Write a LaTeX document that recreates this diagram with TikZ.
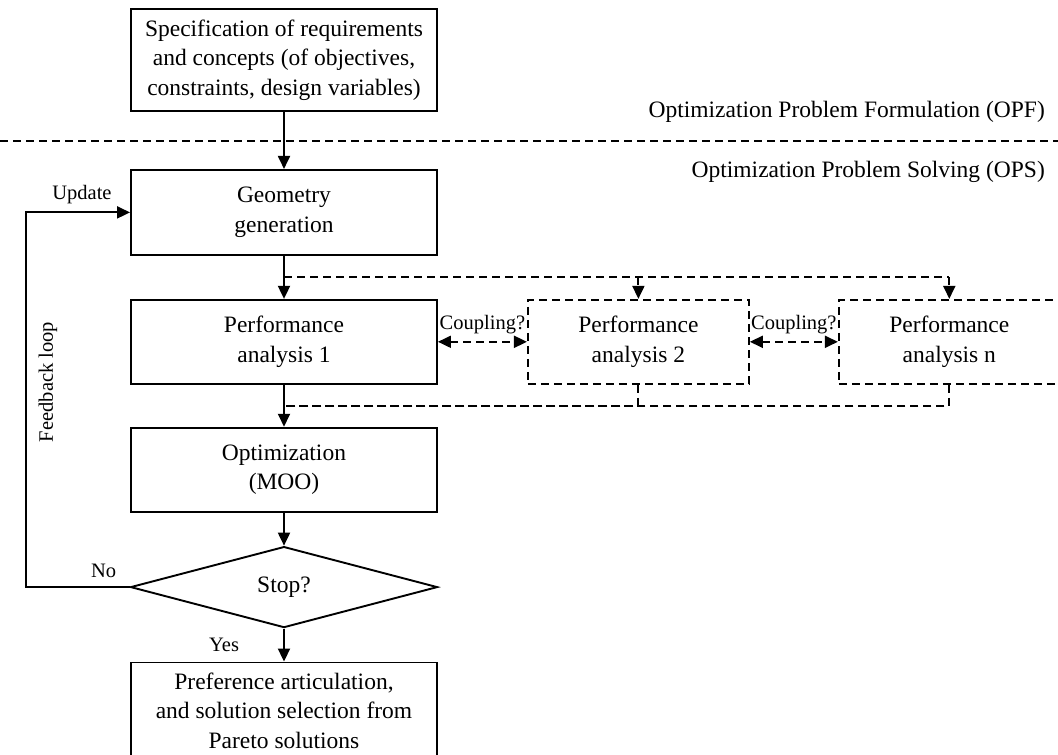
\documentclass[tikz,border=0pt]{standalone}
\usepackage{fontspec}
\setmainfont{Liberation Serif}
\usetikzlibrary{arrows.meta,positioning,calc,shapes.geometric}
\tikzset{
  blk/.style={draw, line width=1.9pt, minimum width=306pt, minimum height=84pt, inner sep=3pt, align=center, font=\fontsize{23.5}{29.5}\selectfont},
  dblk/.style={blk, dash pattern=on 8pt off 5pt, minimum width=221pt},
  dec/.style={draw, diamond, line width=1.9pt, minimum width=307pt, minimum height=81pt, inner sep=0pt, font=\fontsize{23.5}{29.5}\selectfont},
  arr/.style={-{Triangle[length=13pt, width=12pt]}, line width=1.9pt},
  darr/.style={arr, dash pattern=on 8pt off 5pt},
  cpl/.style={{Triangle[length=13pt, width=12pt]}-{Triangle[length=13pt, width=12pt]}, line width=1.9pt, dash pattern=on 8pt off 5pt},
  dline/.style={line width=1.9pt, dash pattern=on 8pt off 5pt},
  lbl/.style={inner sep=0pt, font=\fontsize{23.5}{29.5}\selectfont},
  lbls/.style={inner sep=0pt, font=\fontsize{20.5}{24}\selectfont},
}
\begin{document}
\begin{tikzpicture}[x=1pt, y=-1pt]
  \useasboundingbox (0,0) rectangle (1058,755);
  % main column
  \node[blk, minimum height=102pt] (spec) at (284,60) {Specification of requirements\\and concepts (of objectives,\\constraints, design variables)};
  \node[blk, below=57pt of spec, minimum height=85pt] (geom) {Geometry\\generation};
  \node[blk, below=43pt of geom] (pa1) {Performance\\analysis 1};
  \node[blk, below=42pt of pa1] (opt) {Optimization\\(MOO)};
  \node[dec, below=33pt of opt] (stop) {Stop?};
  \node[blk, below=33pt of stop, minimum height=96pt] (pref) {Preference articulation,\\and solution selection from\\Pareto solutions};
  % further analyses
  \node[dblk, right=89pt of pa1] (pa2) {Performance\\analysis 2};
  \node[dblk, right=88pt of pa2] (pan) {Performance\\analysis n};
  % phases
  \coordinate (sepL) at (0,141);
  \coordinate (sepR) at (1058,141);
  \draw[dline] (sepL) -- (sepR);
  \node[lbl, anchor=east] (opf) at (1045,112) {Optimization Problem Formulation (OPF)};
  \node[lbl, anchor=east] (ops) at (1045,172) {Optimization Problem Solving (OPS)};
  % flow
  \draw[arr] (spec) -- (geom);
  \draw[arr] (geom) -- (pa1);
  \draw[arr] (pa1) -- (opt);
  \draw[arr] (opt) -- (stop);
  \draw[arr] (stop) -- node[lbls, left=44pt] {Yes} (pref);
  \coordinate (br) at ($(geom.south)!0.5!(pa1.north)$);
  \coordinate (mg) at ($(pa1.south)!0.5!(opt.north)$);
  \draw[dline] (br) -- (br -| pan.north);
  \foreach \p in {pa2,pan} { \draw[darr] (br -| \p.north) -- (\p.north); \draw[dline] (\p.south) -- (\p.south |- mg) -- (mg); }
  \draw[cpl] (pa1) -- node[lbls, above=7pt] {Coupling?} (pa2);
  \draw[cpl] (pa2) -- node[lbls, above=7pt] {Coupling?} (pan);
  % feedback
  \coordinate (fbk) at ($(stop.west)+(-104,0)$);
  \draw[arr] (stop.west) -- node[lbls, above=8pt, pos=0.25] {No} (fbk) |- node[lbls, above=8pt, pos=0.77] {Update} (geom.west);
  \node[lbls, rotate=90] (fbl) at (48,382) {Feedback loop};
\end{tikzpicture}
\end{document}
